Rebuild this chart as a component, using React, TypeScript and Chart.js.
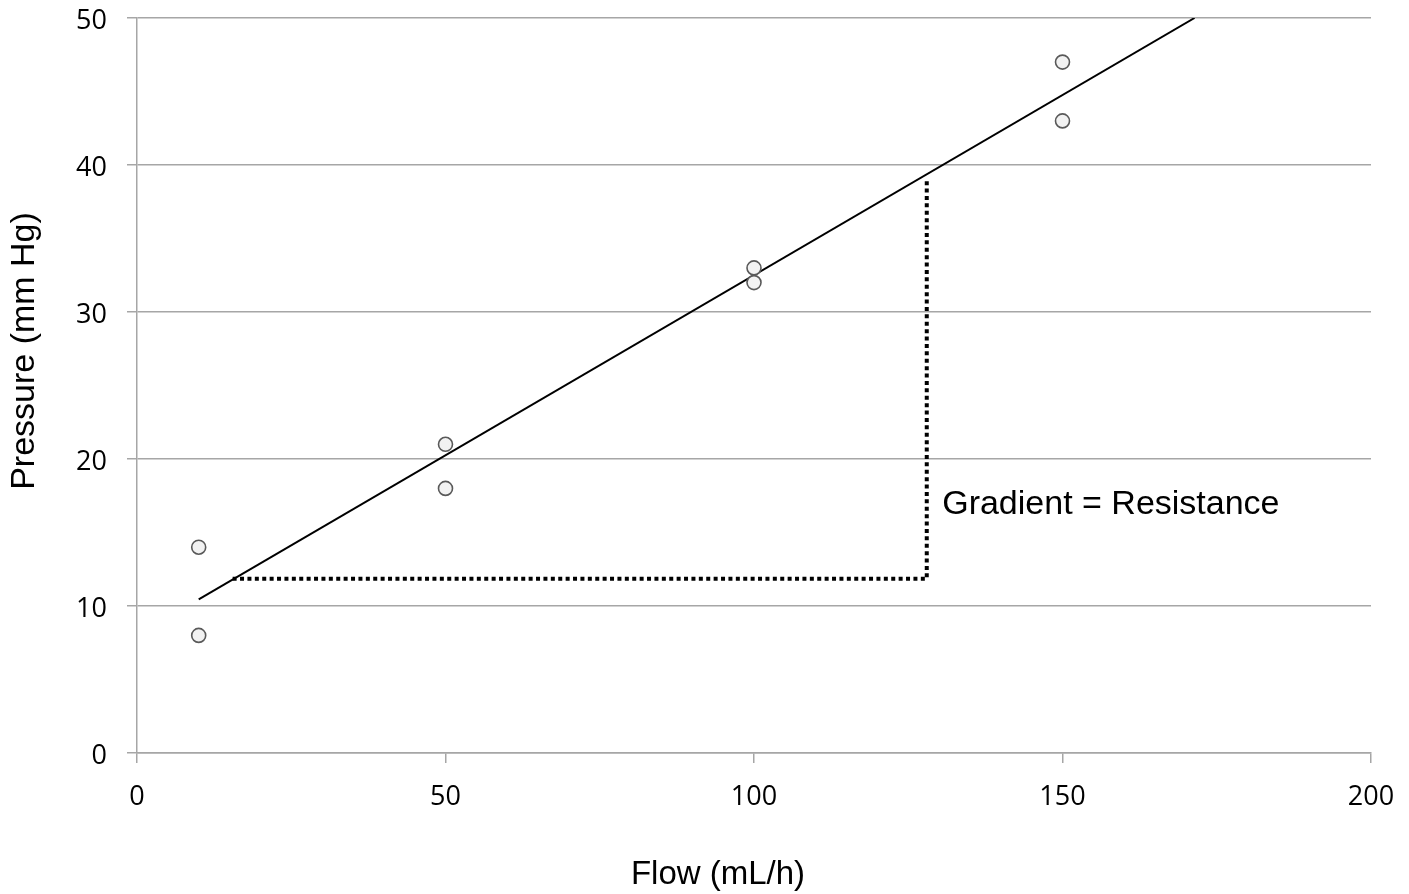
import React, { useEffect, useRef } from "react";
import { Chart, registerables } from "chart.js";

Chart.register(...registerables);

// Measured data points (Flow mL/h, Pressure mm Hg)
const flowValues = [10, 10, 50, 50, 100, 100, 150, 150];
const pressureValues = [14, 8, 21, 18, 33, 32, 47, 43];

// Best-fit line endpoints
const fitFlow = [10, 171.4];
const fitPressure = [10.45, 50];

// Dotted "gradient" guide (run then rise)
const guideFlow = [15.5, 128, 128];
const guidePressure = [11.85, 11.85, 39.1];

// Annotation text and anchor (data coords)
const annotationText = "Gradient = Resistance";
const annotationAnchor = [130.5, 16.9];

const xTitle = "Flow (mL/h)";
const yTitle = "Pressure (mm Hg)";

const xTicks = [0, 50, 100, 150, 200];
const yTicks = [0, 10, 20, 30, 40, 50];

const toXY = (xs: number[], ys: number[]) => xs.map((x, i) => ({ x, y: ys[i] }));

const textPlugin = {
  id: "customText",
  afterDraw(chart: any) {
    const ctx = chart.ctx;
    const xs = chart.scales.x;
    const ys = chart.scales.y;
    ctx.save();
    ctx.fillStyle = "#000";
    ctx.font = '34px "Liberation Sans", Arial, sans-serif';
    ctx.textAlign = "left";
    ctx.textBaseline = "middle";
    ctx.fillText(annotationText, xs.getPixelForValue(annotationAnchor[0]), ys.getPixelForValue(annotationAnchor[1]));
    ctx.textAlign = "center";
    ctx.textBaseline = "middle";
    ctx.font = '33px "Liberation Sans", Arial, sans-serif';
    ctx.fillText(xTitle, 718, 875);
    ctx.save();
    ctx.translate(25, 351);
    ctx.rotate(-Math.PI / 2);
    ctx.font = '34px "Liberation Sans", Arial, sans-serif';
    ctx.fillText(yTitle, 0, 0);
    ctx.restore();
    ctx.restore();
  },
};

export default function App() {
  const canvasRef = useRef<HTMLCanvasElement | null>(null);

  useEffect(() => {
    if (!canvasRef.current) return;
    const chart = new Chart(canvasRef.current, {
      type: "scatter",
      data: {
        datasets: [
          {
            label: "Fit",
            data: toXY(fitFlow, fitPressure),
            showLine: true,
            borderColor: "#000",
            borderWidth: 2,
            pointRadius: 0,
            fill: false,
            order: 2,
          },
          {
            label: "Guide",
            data: toXY(guideFlow, guidePressure),
            showLine: true,
            borderColor: "#000",
            borderWidth: 4,
            borderDash: [4, 3.4],
            borderCapStyle: "butt",
            pointRadius: 0,
            fill: false,
            order: 3,
          },
          {
            label: "Measurements",
            data: toXY(flowValues, pressureValues),
            pointRadius: 7,
            pointBackgroundColor: "#f2f2f2",
            pointBorderColor: "#595959",
            pointBorderWidth: 1.6,
            order: 1,
          },
        ],
      },
      options: {
        animation: false,
        responsive: true,
        maintainAspectRatio: false,
        layout: { padding: { top: 18, right: 38, left: 0, bottom: 0 } },
        plugins: {
          legend: { display: false },
          tooltip: { enabled: false },
        },
        scales: {
          x: {
            type: "linear",
            min: 0,
            max: 200,
            afterFit: (s: any) => {
              s.height = 141;
              s.paddingLeft = 0;
              s.paddingRight = 0;
              s.paddingTop = 0;
              s.paddingBottom = 0;
            },
            afterBuildTicks: (s: any) => {
              s.ticks = xTicks.map((v) => ({ value: v }));
            },
            ticks: {
              font: { family: '"Open Sans", sans-serif', size: 27 },
              color: "#000",
              padding: 18,
              maxRotation: 0,
            },
            grid: {
              drawOnChartArea: false,
              drawTicks: true,
              tickLength: 10,
              color: "#a6a6a6",
              lineWidth: 1.5,
            },
            border: { display: true, color: "#a6a6a6", width: 1.5 },
          },
          y: {
            type: "linear",
            min: 0,
            max: 50,
            afterFit: (s: any) => {
              s.width = 137;
              s.paddingLeft = 0;
              s.paddingRight = 0;
              s.paddingTop = 0;
              s.paddingBottom = 0;
            },
            afterBuildTicks: (s: any) => {
              s.ticks = yTicks.map((v) => ({ value: v }));
            },
            ticks: {
              font: { family: '"Open Sans", sans-serif', size: 27 },
              color: "#000",
              padding: 20,
              labelOffset: 3,
            },
            grid: {
              drawOnChartArea: true,
              drawTicks: true,
              tickLength: 10,
              color: "#a6a6a6",
              lineWidth: 1.5,
            },
            border: { display: true, color: "#a6a6a6", width: 1.5 },
          },
        },
      },
      plugins: [textPlugin],
    });
    return () => chart.destroy();
  }, []);

  return (
    <div style={{ position: "fixed", left: 0, top: 0, width: 1409, height: 894, background: "#fff" }}>
      <canvas ref={canvasRef} />
    </div>
  );
}
